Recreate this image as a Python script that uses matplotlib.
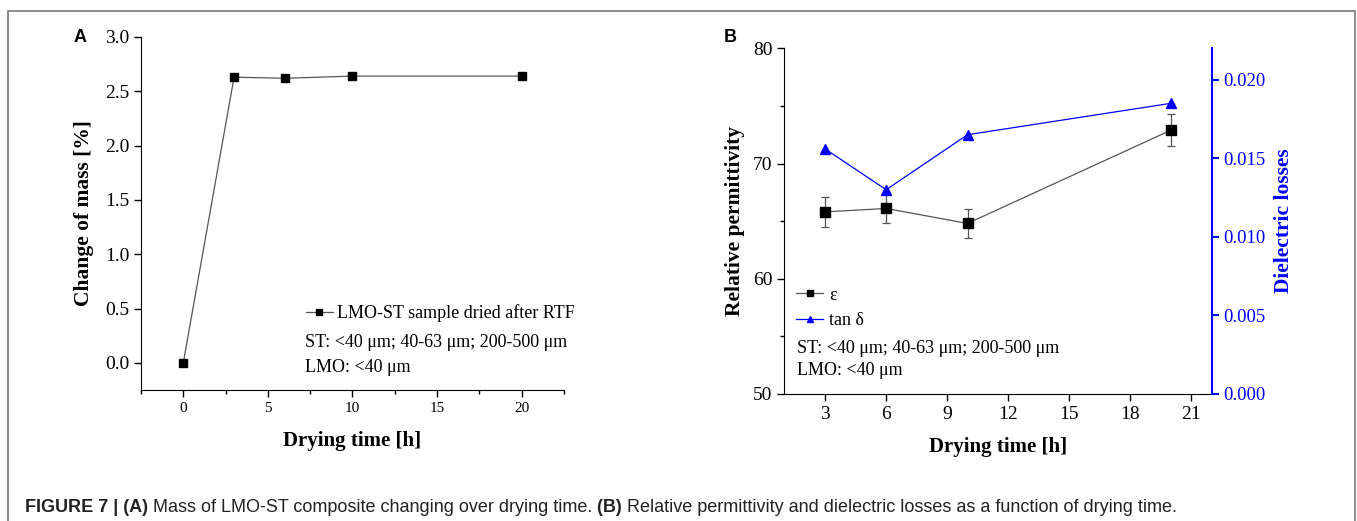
import matplotlib
matplotlib.use("Agg")
import matplotlib.pyplot as plt
from matplotlib.patches import Rectangle
from matplotlib.lines import Line2D
from matplotlib.ticker import MultipleLocator, FormatStrFormatter

# Panel A data
time_a = [0, 3, 6, 10, 20]
mass_change = [0.0, 2.63, 2.62, 2.64, 2.64]

# Panel B data
time_b = [3, 6, 10, 20]
permittivity = [65.8, 66.1, 64.8, 72.9]
perm_err = [1.3, 1.3, 1.25, 1.4]
tan_delta = [0.0156, 0.0130, 0.0165, 0.0185]

serif = ["Liberation Serif", "DejaVu Serif"]
sans = ["Liberation Sans", "DejaVu Sans"]
blue = "#0000ff"
line_gray = "#555555"

fig = plt.figure(figsize=(13.57, 5.21), dpi=100)

# outer frame of the figure
fig.patches.append(Rectangle((8 / 1357, -0.01), 1347 / 1357, 1 - 11 / 521 + 0.01,
                             transform=fig.transFigure, fill=False,
                             edgecolor="#777777", lw=1.2))

# ---- panel A ----
ax1 = fig.add_axes([0.1039, 0.2514, 0.3117, 0.6776])
ax1.plot(time_a, mass_change, color=line_gray, lw=0.9, marker="s",
         markersize=6, markerfacecolor="black", markeredgecolor="black")
ax1.set_xlim(-2.5, 22.5)
ax1.set_ylim(-0.25, 3.0)
ax1.xaxis.set_major_locator(MultipleLocator(5))
ax1.xaxis.set_minor_locator(MultipleLocator(2.5))
ax1.yaxis.set_major_locator(MultipleLocator(0.5))
ax1.yaxis.set_major_formatter(FormatStrFormatter("%.1f"))
ax1.spines["top"].set_visible(False)
ax1.spines["right"].set_visible(False)
ax1.tick_params(direction="out", length=5, width=1)
ax1.tick_params(axis="x", labelsize=11)
ax1.tick_params(axis="y", labelsize=14)
ax1.tick_params(which="minor", direction="out", length=3, width=1)
for lab in ax1.get_xticklabels() + ax1.get_yticklabels():
    lab.set_family(serif)
ax1.set_xlabel("Drying time [h]", family=serif, fontsize=15, fontweight="bold", labelpad=12)
ax1.set_ylabel("Change of mass [%]", family=serif, fontsize=15.5, fontweight="bold", labelpad=8)
h_a = Line2D([], [], color=line_gray, lw=0.9, marker="s", markersize=4,
             markerfacecolor="black", markeredgecolor="black")
ax1.legend([h_a], ["LMO-ST sample dried after RTF"], loc="center left",
           bbox_to_anchor=(0.39, 0.218), frameon=False,
           prop={"family": serif, "size": 13}, handlelength=1.5, handletextpad=0.2,
           borderaxespad=0, borderpad=0)
ax1.text(0.388, 0.136, "ST: <40 μm; 40-63 μm; 200-500 μm", transform=ax1.transAxes,
         family=serif, fontsize=13, va="center")
ax1.text(0.388, 0.065, "LMO: <40 μm", transform=ax1.transAxes,
         family=serif, fontsize=13, va="center")
fig.text(80 / 1357, 1 - 37 / 521, "A", family=sans, fontsize=13, fontweight="bold",
         ha="center", va="center")

# ---- panel B ----
ax2 = fig.add_axes([0.578, 0.2438, 0.315, 0.6635])
ax2.errorbar(time_b, permittivity, yerr=perm_err, color=line_gray, lw=0.9,
             marker="s", markersize=6.5, markerfacecolor="black", markeredgecolor="black",
             ecolor=line_gray, elinewidth=0.9, capsize=3, capthick=0.9)
ax2.set_xlim(1, 22)
ax2.set_ylim(50, 80)
ax2.xaxis.set_major_locator(MultipleLocator(3))
ax2.yaxis.set_major_locator(MultipleLocator(10))
ax2.yaxis.set_minor_locator(MultipleLocator(5))
ax2.spines["top"].set_visible(False)
ax2.spines["right"].set_visible(False)
ax2.tick_params(direction="out", length=5, width=1, labelsize=14)
ax2.tick_params(which="minor", direction="out", length=3, width=1)
for lab in ax2.get_xticklabels() + ax2.get_yticklabels():
    lab.set_family(serif)
ax2.set_xlabel("Drying time [h]", family=serif, fontsize=15, fontweight="bold", labelpad=10)
ax2.set_ylabel("Relative permittivity", family=serif, fontsize=15.5, fontweight="bold", labelpad=6)

ax3 = ax2.twinx()
ax3.plot(time_b, tan_delta, color=blue, lw=0.9, marker="^", markersize=7.5,
         markerfacecolor=blue, markeredgecolor=blue)
ax3.set_ylim(0, 0.022)
ax3.yaxis.set_major_locator(MultipleLocator(0.005))
ax3.yaxis.set_major_formatter(FormatStrFormatter("%.3f"))
ax3.spines["top"].set_visible(False)
ax3.spines["left"].set_visible(False)
ax3.spines["bottom"].set_visible(False)
ax3.spines["right"].set_color(blue)
ax3.spines["right"].set_linewidth(1.5)
ax3.tick_params(axis="y", direction="out", length=5, width=1.5, colors=blue, labelsize=13.5)
for lab in ax3.get_yticklabels():
    lab.set_family(serif)
ax3.set_ylabel("Dielectric losses", family=serif, fontsize=15.5, fontweight="bold",
               color=blue, labelpad=6)

h_eps = Line2D([], [], color=line_gray, lw=0.9, marker="s", markersize=4,
               markerfacecolor="black", markeredgecolor="black")
h_tan = Line2D([], [], color=blue, lw=0.9, marker="^", markersize=5,
               markerfacecolor=blue, markeredgecolor=blue)
ax3.legend([h_eps, h_tan], ["ε", "tan δ"], loc="upper left",
           bbox_to_anchor=(0.028, 0.31), frameon=False,
           prop={"family": serif, "size": 13}, handlelength=1.5, handletextpad=0.3,
           borderaxespad=0, borderpad=0, labelspacing=0.45)
ax2.text(0.029, 0.132, "ST: <40 μm; 40-63 μm; 200-500 μm", transform=ax2.transAxes,
         family=serif, fontsize=13, va="center")
ax2.text(0.029, 0.067, "LMO: <40 μm", transform=ax2.transAxes,
         family=serif, fontsize=13, va="center")
fig.text(730 / 1357, 1 - 37 / 521, "B", family=sans, fontsize=13, fontweight="bold",
         ha="center", va="center")

# ---- caption, pieces placed one after another ----
cap_y = 1 - 508 / 521
pieces = [("FIGURE 7 | (A) ", "bold"),
          ("Mass of LMO-ST composite changing over drying time. ", "normal"),
          ("(B) ", "bold"),
          ("Relative permittivity and dielectric losses as a function of drying time.", "normal")]
renderer = fig.canvas.get_renderer()
x_px = 25
for txt, weight in pieces:
    t = fig.text(x_px / 1357, cap_y, txt, family=sans, fontsize=13, fontweight=weight,
                 color="#222222", va="center")
    x_px += t.get_window_extent(renderer).width

fig.savefig("out.png", dpi=100)
